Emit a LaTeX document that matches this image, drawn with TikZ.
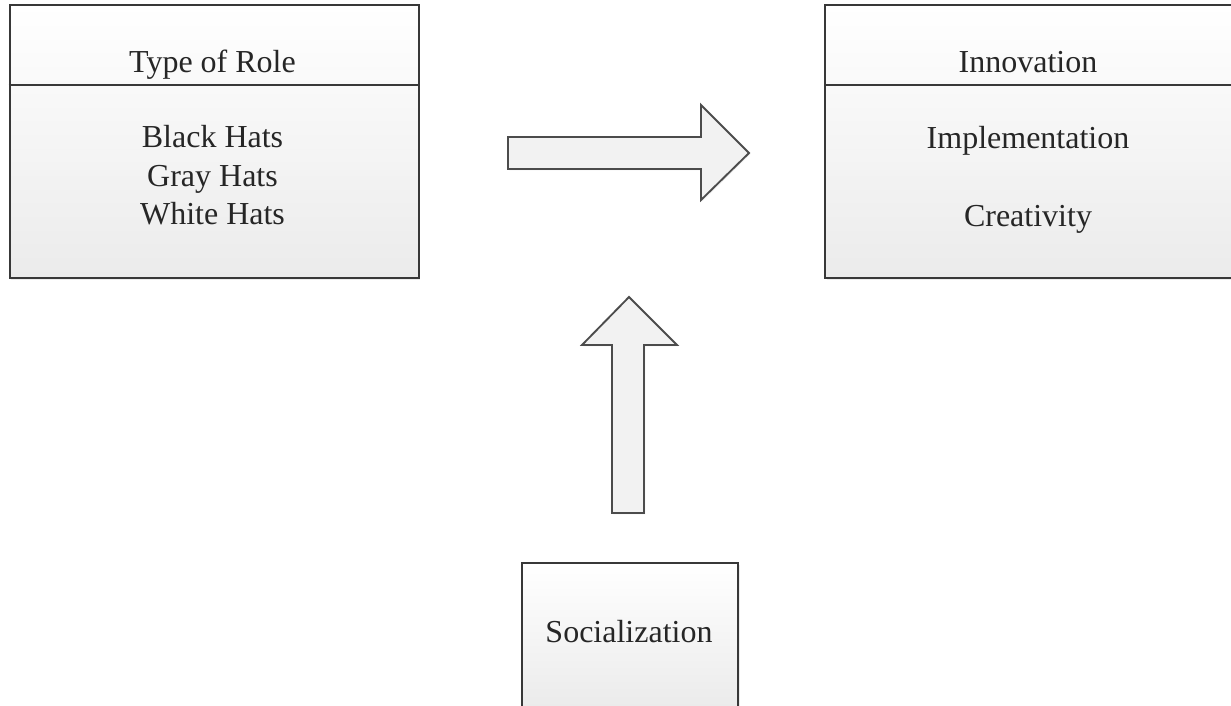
\documentclass[tikz,border=0pt]{standalone}
\usepackage{fontspec}
\setmainfont{Liberation Serif}
\usetikzlibrary{shadows}
\definecolor{edge}{HTML}{383838}
\definecolor{shade}{HTML}{EBEBEB}
\definecolor{ink}{HTML}{262626}

\begin{document}
\begin{tikzpicture}[x=0.75pt, y=-0.75pt,
      box/.style={draw=edge, line width=1.5pt, top color=white, bottom color=shade, inner sep=0pt,
                  anchor=north west, minimum width=306.75pt, minimum height=204.75pt,
                  drop shadow={shadow xshift=1.2pt, shadow yshift=-1.5pt, opacity=0.15}},
      lbl/.style={anchor=base, inner sep=0pt, text=ink, font=\fontsize{24}{30}\selectfont},
      split/.style={draw=edge, line width=1.5pt},
      blockarrow/.style={draw=edge!90, line width=1.4pt, line join=miter, fill=black!5,
                  drop shadow={shadow xshift=1pt, shadow yshift=-1pt, opacity=0.12}}]
    \useasboundingbox (0,0) rectangle (1231,706);
    % the two header boxes
    \node[box] (role) at (8.5,4) {};
    \node[box] (innov) at (824,4) {};
    \coordinate (cut) at (0,85);
    \draw[split] (role.west |- cut) -- (role.east |- cut);
    \draw[split] (innov.west |- cut) -- (innov.east |- cut);
    \node[lbl] (roletitle) at (212.5,73) {Type of Role};
    \node[lbl] (black) at (212.5,148) {Black Hats};
    \node[lbl] (gray) at (212.5,186) {Gray Hats};
    \node[lbl] (white) at (212.5,224) {White Hats};
    \node[lbl] (innovtitle) at (1028,73) {Innovation};
    \node[lbl] (impl) at (1028,149) {Implementation};
    \node[lbl] (creat) at (1028,226) {Creativity};
    % socialization box
    \node[box, minimum width=162pt, minimum height=108pt] (social) at (521,562) {};
    \node[lbl] (socialtxt) at (629,642) {Socialization};
    % block arrows
    \draw[blockarrow] (508,137) -- (701,137) -- (701,105) -- (749,153) -- (701,200)
        -- (701,169) -- (508,169) -- cycle;
    \draw[blockarrow] (612,513) -- (612,345) -- (582,345) -- (629,297) -- (677,345)
        -- (644,345) -- (644,513) -- cycle;
\end{tikzpicture}
\end{document}
